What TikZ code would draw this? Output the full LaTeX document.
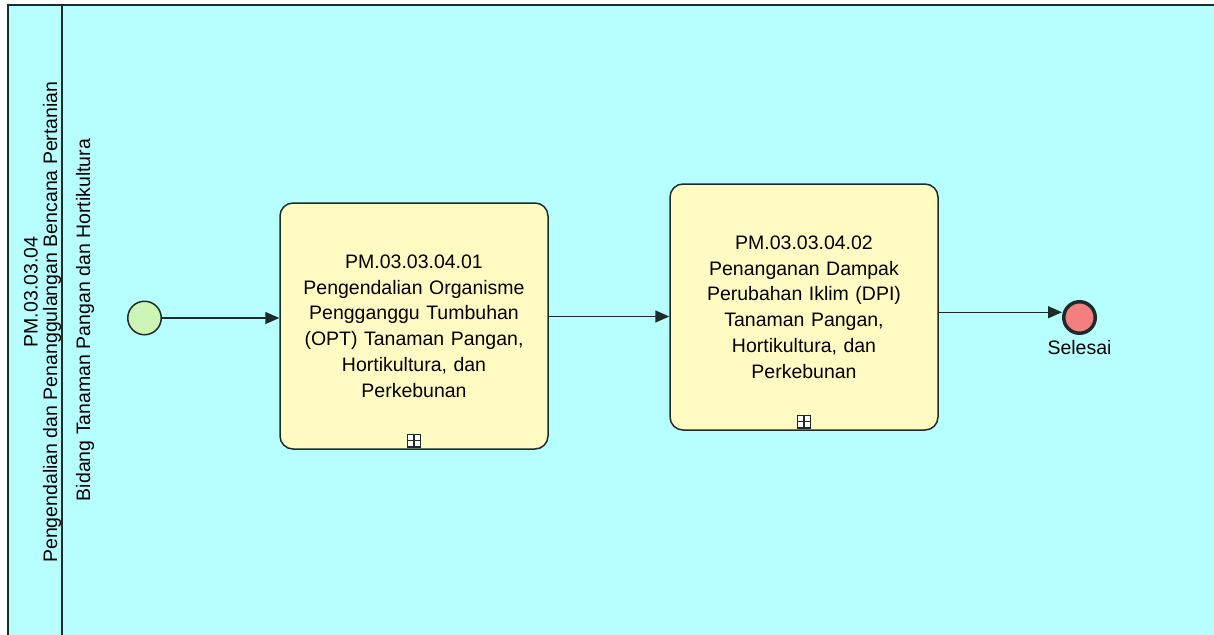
\documentclass[tikz,border=0pt]{standalone}
\usepackage{fontspec}
\setmainfont{Liberation Sans}
\usetikzlibrary{arrows.meta,positioning,calc}
\definecolor{poolcyan}{HTML}{B7FFFF}
\definecolor{taskyellow}{HTML}{FFFBC2}
\definecolor{startgreen}{HTML}{CCF5B6}
\definecolor{endred}{HTML}{F47F7F}
\definecolor{edge}{HTML}{1E2B2B}
\tikzset{task/.style={draw=edge,fill=taskyellow,line width=1.5pt,rounded corners=13pt,minimum width=268pt,minimum height=246pt,align=center,font=\fontsize{19.5}{25.8}\selectfont,text width=250pt}, startev/.style={circle,draw=edge,fill=startgreen,line width=1.5pt,minimum size=33.5pt,inner sep=0pt}, endev/.style={circle,draw=edge,fill=endred,line width=3.5pt,minimum size=31.5pt,inner sep=0pt}, flow/.style={-{Triangle[length=14pt,width=12pt]},line width=1.5pt,draw=edge}, marker/.style={draw=edge,fill=white,line width=1.3pt,minimum size=12.5pt,inner sep=0pt}, lbl/.style={font=\fontsize{19.5}{22}\selectfont,align=center}}

\begin{document}
\begin{tikzpicture}[x=1pt,y=-1pt]
\useasboundingbox (0,0) rectangle (1214,634);
\clip (0,0) rectangle (1214,634);
\fill[white] (0,0) rectangle (1214,634);
% pool and lane
\draw[edge,line width=2pt,fill=poolcyan] (7.5,5.5) rectangle (1230,650);
\draw[edge,line width=2pt] (62,5.5) -- (62,650);
\node[lbl,rotate=90] (poolid) at (31,292) {PM.03.03.04};
\node[lbl,rotate=90] (poolname) at (52,322) {Pengendalian dan Penanggulangan Bencana Pertanian};
\node[lbl,rotate=90] (lane) at (85,320) {Bidang Tanaman Pangan dan Hortikultura};
% events and tasks
\node[startev] (s) at (144.5,318) {};
\node[task] (b1) at (414,326) {PM.03.03.04.01\\Pengendalian Organisme\\Pengganggu Tumbuhan\\(OPT) Tanaman Pangan,\\Hortikultura, dan\\Perkebunan};
\node[task] (b2) at (804,307) {PM.03.03.04.02\\Penanganan Dampak\\Perubahan Iklim (DPI)\\Tanaman Pangan,\\Hortikultura, dan\\Perkebunan};
\node[endev] (e) at (1079.5,317.5) {};
\node[lbl,below=2pt of e] (sel) {Selesai};
% sub-process markers
\node[marker] (m1) at ([yshift=9pt]b1.south) {};
\draw[edge,line width=1.3pt] (m1.north) -- (m1.south) (m1.west) -- (m1.east);
\node[marker] (m2) at ([yshift=9pt]b2.south) {};
\draw[edge,line width=1.3pt] (m2.north) -- (m2.south) (m2.west) -- (m2.east);
% flows
\coordinate (mid1) at ($(b1.east)!.5!(b2.west)$);
\coordinate (mid2) at ($(b2.east)!.5!(e.west)$);
\draw[flow] (s) -- (s -| b1.west);
\draw[flow] (mid1 -| b1.east) -- (mid1 -| b2.west);
\draw[flow] (mid2 -| b2.east) -- (mid2 -| e.west);
\end{tikzpicture}
\end{document}
